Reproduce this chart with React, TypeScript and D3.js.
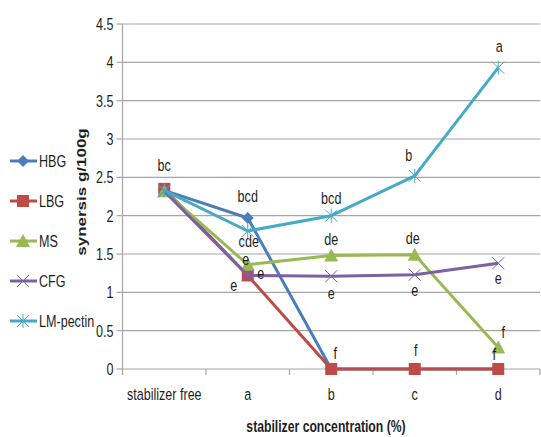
import React from "react";
import * as d3 from "d3";

const categories = ["stabilizer free", "a", "b", "c", "d"];
const seriesNames = ["HBG", "LBG", "MS", "CFG", "LM-pectin"];
const HBG = [2.33, 1.97, 0, 0, 0];
const LBG = [2.35, 1.22, 0, 0, 0];
const MS = [2.32, 1.36, 1.48, 1.49, 0.28];
const CFG = [2.32, 1.22, 1.21, 1.23, 1.38];
const LMpectin = [2.33, 1.8, 2.0, 2.52, 3.93];
const yTicks = [0, 0.5, 1, 1.5, 2, 2.5, 3, 3.5, 4, 4.5];
// letters: [seriesIndex, categoryIndex, text, dx, dy(baseline)]
const letters: [number, number, string, number, number][] = [
  [1, 0, "bc", 0, -18],
  [0, 1, "bcd", 0, -16],
  [4, 1, "cde", 1, 16],
  [2, 1, "e", -2, 0],
  [3, 1, "e", 13, 4],
  [1, 1, "e", -14, 16],
  [4, 2, "bcd", 0, -12],
  [2, 2, "de", 0, -11],
  [3, 2, "e", 0, 23],
  [1, 2, "f", 4, -10],
  [4, 3, "b", -6, -15],
  [2, 3, "de", -2, -11],
  [3, 3, "e", 0, 21],
  [1, 3, "f", 1, -13],
  [4, 4, "a", 1, -16],
  [3, 4, "e", 0, 21],
  [2, 4, "f", 5, -10],
  [1, 4, "f", -4, -9],
];

const colors = ["#4A7EBB", "#BE4B48", "#98B954", "#7D60A0", "#46AAC5"];
const allSeries = [HBG, LBG, MS, CFG, LMpectin];
const FONT = "'Liberation Sans', Arial, sans-serif";
const SX = 0.74;

function T({
  x,
  y,
  children,
  anchor = "middle",
  size = 17,
  bold = false,
  dy,
}: {
  x: number;
  y: number;
  children: React.ReactNode;
  anchor?: string;
  size?: number;
  bold?: boolean;
  dy?: string;
}) {
  return (
    <text
      transform={`translate(${x},${y}) scale(${SX},1)`}
      textAnchor={anchor}
      fontSize={size}
      fontWeight={bold ? "bold" : "normal"}
      fill="#1e1e1e"
      dy={dy}
    >
      {children}
    </text>
  );
}

function Marker({ type, x, y, color }: { type: number; x: number; y: number; color: string }) {
  if (type === 0) {
    const s = 6;
    return <path d={`M${x},${y - s}L${x + s},${y}L${x},${y + s}L${x - s},${y}Z`} fill={color} />;
  }
  if (type === 1) {
    return <rect x={x - 6} y={y - 6} width={12} height={12} fill={color} />;
  }
  if (type === 2) {
    return <path d={`M${x},${y - 7}L${x + 7},${y + 6}L${x - 7},${y + 6}Z`} fill={color} />;
  }
  if (type === 3) {
    const s = 6;
    return (
      <path d={`M${x - s},${y - s}L${x + s},${y + s}M${x - s},${y + s}L${x + s},${y - s}`} stroke={color} strokeWidth={1} fill="none" />
    );
  }
  const s = 6;
  return (
    <path
      d={`M${x - s},${y - s}L${x + s},${y + s}M${x - s},${y + s}L${x + s},${y - s}M${x},${y - s - 1}L${x},${y + s + 1}`}
      stroke={color}
      strokeWidth={1}
      fill="none"
    />
  );
}

export default function App() {
  const W = 541, H = 437;
  const left = 122.5, right = 540, top = 24, bottom = 369;
  const x = d3.scaleBand<string>().domain(categories).range([left, right]);
  const y = d3.scaleLinear().domain([0, 4.5]).range([bottom, top]);
  const cx = (i: number) => (x(categories[i]) as number) + x.bandwidth() / 2;
  const line = d3
    .line<number>()
    .x((_, i) => cx(i))
    .y((d) => y(d));
  const boundaries = categories.map((c) => x(c) as number).concat([right]);

  return (
    <svg width={W} height={H} style={{ position: "absolute", left: 0, top: 0 }} fontFamily={FONT}>
      <rect width={W} height={H} fill="#fff" />
      {yTicks.map((t) => (
        <g key={t}>
          {t > 0 && <line x1={left} x2={right} y1={y(t)} y2={y(t)} stroke="#a6a6a6" strokeWidth={1.2} />}
          <line x1={left - 6} x2={left} y1={y(t)} y2={y(t)} stroke="#a6a6a6" strokeWidth={1.2} />
          <T x={left - 9} y={y(t)} dy="0.36em" anchor="end">
            {t}
          </T>
        </g>
      ))}
      <line x1={left} x2={left} y1={top} y2={bottom} stroke="#a6a6a6" strokeWidth={1.2} />
      <line x1={left} x2={right} y1={bottom} y2={bottom} stroke="#a6a6a6" strokeWidth={1.2} />
      {boundaries.map((b, i) => (
        <line key={i} x1={b} x2={b} y1={bottom} y2={bottom + 6} stroke="#a6a6a6" strokeWidth={1.2} />
      ))}
      {categories.map((c, i) => (
        <T key={c} x={cx(i)} y={400}>
          {c}
        </T>
      ))}
      {allSeries.map((s, si) => (
        <g key={si}>
          <path d={line(s) as string} fill="none" stroke={colors[si]} strokeWidth={3} strokeLinejoin="round" />
          {s.map((v, i) => (
            <Marker key={i} type={si} x={cx(i)} y={y(v)} color={colors[si]} />
          ))}
        </g>
      ))}
      {letters.map(([si, ci, t, dx, dy], k) => (
        <T key={k} x={cx(ci) + dx} y={y(allSeries[si][ci]) + dy}>
          {t}
        </T>
      ))}
      {seriesNames.map((n, i) => {
        const ly = 161 + i * 40;
        return (
          <g key={n}>
            <line x1={10} x2={37} y1={ly} y2={ly} stroke={colors[i]} strokeWidth={3} />
            <Marker type={i} x={23} y={ly} color={colors[i]} />
            <T x={39} y={ly} dy="0.36em" anchor="start">
              {n}
            </T>
          </g>
        );
      })}
      <text
        transform={`translate(86,192) rotate(-90) scale(1,0.8)`}
        textAnchor="middle"
        fontSize={17}
        fontWeight="bold"
        fill="#1e1e1e"
      >
        synersis g/100g
      </text>
      <T x={326} y={432} bold size={16.5}>
        stabilizer concentration (%)
      </T>
    </svg>
  );
}
